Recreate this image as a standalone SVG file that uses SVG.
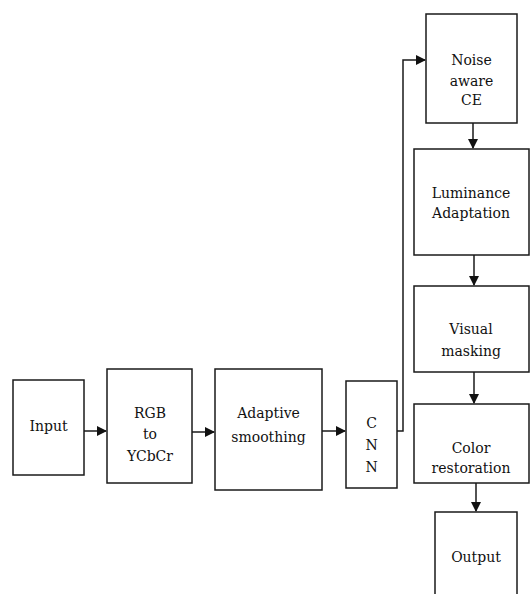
<svg xmlns="http://www.w3.org/2000/svg" width="530" height="594" viewBox="0 0 530 594">
<style>
.box{fill:#fff;stroke:#1a1a1a;stroke-width:1.5}
.t{font-family:"DejaVu Serif","Liberation Serif",serif;font-size:14px;fill:#111;text-anchor:middle}
.c{fill:none;stroke:#1a1a1a;stroke-width:1.5}
</style>
<defs>
<marker id="ah" markerWidth="10" markerHeight="10" refX="9" refY="5" orient="auto" markerUnits="userSpaceOnUse">
<path d="M0,0 L10,5 L0,10 Z" fill="#111"/>
</marker>
</defs>
<rect width="530" height="594" fill="#fff"/>
<g id="connectors">
<line class="c" x1="84" y1="431" x2="106" y2="431" marker-end="url(#ah)"/>
<line class="c" x1="192" y1="432" x2="214" y2="432" marker-end="url(#ah)"/>
<line class="c" x1="322" y1="431" x2="345" y2="431" marker-end="url(#ah)"/>
<polyline class="c" points="397,431 403,431 403,60 425,60" marker-end="url(#ah)"/>
<line class="c" x1="473" y1="123" x2="473" y2="148" marker-end="url(#ah)"/>
<line class="c" x1="474" y1="255" x2="474" y2="285" marker-end="url(#ah)"/>
<line class="c" x1="474" y1="372" x2="474" y2="403" marker-end="url(#ah)"/>
<line class="c" x1="476" y1="483" x2="476" y2="511" marker-end="url(#ah)"/>
</g>
<g id="input"><rect class="box" x="13" y="380" width="71" height="95"/><text class="t" x="48.5" y="431">Input</text></g>
<g id="rgb"><rect class="box" x="107" y="369" width="85" height="114"/><text class="t" x="150" y="418">RGB</text><text class="t" x="150" y="439">to</text><text class="t" x="150" y="461">YCbCr</text></g>
<g id="smoothing"><rect class="box" x="215" y="369" width="107" height="121"/><text class="t" x="268.5" y="418">Adaptive</text><text class="t" x="268.5" y="442">smoothing</text></g>
<g id="cnn"><rect class="box" x="346" y="381" width="51" height="107"/><text class="t" x="371.5" y="428">C</text><text class="t" x="371.5" y="450">N</text><text class="t" x="371.5" y="472">N</text></g>
<g id="noise"><rect class="box" x="426" y="14" width="91" height="109"/><text class="t" x="471.5" y="65">Noise</text><text class="t" x="471.5" y="86">aware</text><text class="t" x="471.5" y="105">CE</text></g>
<g id="luminance"><rect class="box" x="414" y="149" width="115" height="106"/><text class="t" x="471" y="198">Luminance</text><text class="t" x="471" y="218">Adaptation</text></g>
<g id="masking"><rect class="box" x="414" y="286" width="115" height="86"/><text class="t" x="471" y="334">Visual</text><text class="t" x="471" y="356">masking</text></g>
<g id="color"><rect class="box" x="414" y="404" width="115" height="79"/><text class="t" x="471" y="453">Color</text><text class="t" x="471" y="473">restoration</text></g>
<g id="output"><rect class="box" x="435" y="512" width="82" height="90"/><text class="t" x="476" y="562">Output</text></g>
</svg>
